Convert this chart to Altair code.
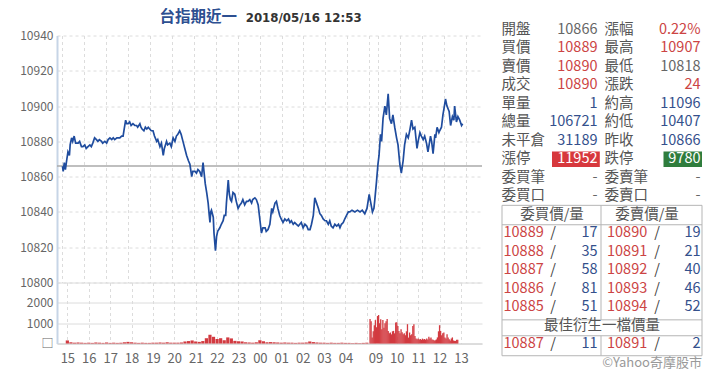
import altair as alt
import pandas as pd

FONT = "Noto Sans CJK TC"

# ---------------- data ----------------
title_main = "台指期近一"
title_time = "2018/05/16 12:53"
prev_close = 10866

# night session (minutes after 15:00)
night_min = [0, 2, 5, 8, 12, 15, 19, 21, 25, 28,
             32, 36, 43, 47, 52, 56, 61, 65, 70, 75,
             79, 83, 88, 93, 97, 101, 107, 110, 116, 121,
             125, 130, 135, 139, 143, 149, 157, 162, 166, 169,
             173, 176, 180, 184, 188, 193, 198, 203, 206, 212,
             215, 218, 223, 227, 231, 235, 239, 243, 248, 252,
             258, 261, 267, 271, 276, 279, 282, 285, 288, 294,
             298, 303, 308, 312, 316, 321, 325, 330, 335, 340,
             345, 349, 354, 357, 363, 367, 371, 376, 381, 385,
             388, 391, 395, 399, 402, 404, 406, 408, 413, 415,
             419, 422, 425, 431, 435, 440, 443, 447, 449, 454,
             457, 460, 463, 467, 472, 476, 481, 486, 490, 494,
             499, 504, 508, 513, 518, 521, 527, 531, 536, 541,
             545, 549, 555, 558, 563, 568, 573, 576, 582, 586,
             590, 595, 599, 604, 609, 614, 619, 623, 627, 632,
             636, 641, 646, 650, 654, 659, 664, 669, 673, 678,
             682, 687, 691, 696, 701, 705, 709, 714, 719, 723,
             728, 732, 736, 741, 746, 751, 756, 760, 764, 769,
             773, 778, 783, 787, 793, 801, 808, 815, 821, 828,
             834, 840]
night_price = [10866, 10863, 10868, 10864, 10870, 10874, 10872, 10878, 10882, 10880,
               10883, 10879, 10879, 10880, 10877, 10877, 10878, 10876, 10877, 10878,
               10877, 10879, 10882, 10881, 10880, 10881, 10880, 10879, 10880, 10879,
               10881, 10882, 10881, 10882, 10881, 10882, 10882, 10883, 10883, 10887,
               10892, 10890, 10890, 10891, 10889, 10890, 10889, 10889, 10888, 10890,
               10888, 10887, 10886, 10888, 10887, 10888, 10887, 10886, 10886, 10883,
               10880, 10881, 10877, 10879, 10872, 10876, 10878, 10880, 10878, 10879,
               10877, 10882, 10880, 10883, 10884, 10886, 10884, 10880, 10876, 10872,
               10869, 10867, 10860, 10863, 10863, 10862, 10864, 10863, 10860, 10868,
               10862, 10856, 10851, 10845, 10838, 10834, 10840, 10841, 10837, 10828,
               10818, 10826, 10829, 10831, 10833, 10835, 10838, 10838, 10845, 10858,
               10850, 10847, 10846, 10851, 10850, 10846, 10842, 10844, 10845, 10847,
               10844, 10846, 10846, 10847, 10845, 10847, 10848, 10847, 10844, 10835,
               10828, 10831, 10831, 10829, 10830, 10833, 10842, 10840, 10845, 10846,
               10842, 10838, 10836, 10834, 10836, 10835, 10836, 10834, 10835, 10833,
               10834, 10833, 10832, 10833, 10834, 10831, 10833, 10832, 10830, 10830,
               10833, 10838, 10848, 10845, 10842, 10839, 10838, 10836, 10835, 10835,
               10833, 10835, 10832, 10831, 10833, 10832, 10833, 10831, 10833, 10834,
               10836, 10838, 10840, 10840, 10841, 10840, 10841, 10840, 10841, 10839,
               10842, 10850]

# day session (minutes after 08:45)
day_min = [0, 4, 6, 11, 15, 18, 22, 25, 29, 34,
           38, 43, 47, 52, 56, 61, 66, 70, 75, 79,
           84, 88, 93, 98, 102, 107, 111, 116, 122, 125,
           130, 134, 139, 143, 148, 152, 159, 162, 166, 171,
           173, 177, 182, 184, 189, 193, 197, 200, 204, 210,
           214, 219, 223, 225, 230, 234, 239, 244, 247]
day_price = [10840, 10842, 10846, 10857, 10867, 10872, 10884, 10880, 10893, 10900,
             10895, 10907, 10893, 10890, 10895, 10888, 10882, 10878, 10867, 10862,
             10869, 10878, 10884, 10882, 10886, 10892, 10887, 10888, 10876, 10880,
             10885, 10883, 10881, 10883, 10879, 10874, 10883, 10880, 10873, 10884,
             10882, 10888, 10885, 10886, 10888, 10895, 10900, 10904, 10900, 10897,
             10889, 10894, 10892, 10900, 10891, 10894, 10892, 10889, 10890]

# volume, night every 10 minutes from 15:00, day every 3 minutes from 08:45
night_vol_min = list(range(0, 841, 10))
night_vol = [150, 60, 40, 50, 40, 30, 40, 30, 50, 40,
             30, 50, 30, 40, 30, 40, 60, 80, 60, 40,
             30, 40, 30, 30, 40, 40, 50, 40, 60, 40,
             40, 40, 50, 100, 120, 150, 100, 80, 120, 260,
             430, 330, 220, 260, 160, 300, 250, 130, 110, 100,
             60, 50, 40, 60, 160, 110, 60, 70, 60, 50,
             40, 50, 40, 40, 30, 40, 40, 50, 100, 70,
             50, 40, 40, 30, 40, 30, 30, 40, 30, 30,
             20, 30, 20, 30, 40]
day_vol_min = list(range(0, 247, 3))
day_vol = [1200, 1100, 300, 600, 900, 1150, 800, 1350, 1400, 1000,
           1190, 700, 1150, 780, 1000, 1100, 1200, 620, 500, 540,
           450, 600, 620, 500, 1030, 1050, 860, 620, 500, 700,
           550, 450, 500, 400, 600, 950, 290, 540, 400, 450,
           860, 950, 370, 250, 210, 250, 200, 220, 180, 240,
           200, 220, 180, 240, 200, 330, 250, 290, 200, 180,
           150, 160, 200, 300, 600, 900, 620, 400, 500, 540,
           300, 250, 460, 300, 210, 150, 250, 300, 150, 130,
           130, 180, 180]

tick_labels = ["15", "16", "17", "18", "19", "20", "21", "22", "23", "00",
               "01", "02", "03", "04", "09", "10", "11", "12", "13"]
price_ticks = [10800, 10820, 10840, 10860, 10880, 10900, 10920, 10940]
vol_ticks = [0, 1000, 2000, 3000]

left_labels = ["開盤", "買價", "賣價", "成交", "單量", "總量", "未平倉", "漲停", "委買筆", "委買口"]
left_values = ["10866", "10889", "10890", "10890", "1", "106721", "31189", "11952", "-", "-"]
left_kinds = ["flat", "up", "up", "up", "vol", "vol", "vol", "box", "flat", "flat"]
right_labels = ["漲幅", "最高", "最低", "漲跌", "約高", "約低", "昨收", "跌停", "委賣筆", "委賣口"]
right_values = ["0.22%", "10907", "10818", "24", "11096", "10407", "10866", "9780", "-", "-"]
right_kinds = ["up", "up", "flat", "up", "vol", "vol", "vol", "box", "flat", "flat"]

bid_prices = ["10889", "10888", "10887", "10886", "10885"]
bid_qty = ["17", "35", "58", "81", "51"]
ask_prices = ["10890", "10891", "10892", "10893", "10894"]
ask_qty = ["19", "21", "40", "46", "52"]
best_bid = ("10887", "11")
best_ask = ("10891", "2")
header_bid = "委買價/量"
header_ask = "委賣價/量"
best_title = "最佳衍生一檔價量"
credit = "©Yahoo奇摩股市"

# ---------------- styles ----------------
BLUE_LINE = "#1f4c9e"
RED = "#d23a40"
BLUE_TXT = "#34508c"
GRAY_TXT = "#666666"
LABEL_TXT = "#555555"
GRID = "#dcdcdc"
KIND_COLOR = {"flat": GRAY_TXT, "up": "#cc4444", "vol": BLUE_TXT, "box": "white"}

GAP = 0.15  # break between night close (05:00) and day open (08:45)


def night_pos(m):
    return m / 60.0


def day_pos(m):
    return 14.0 + GAP + m / 60.0


XDOM = [-0.25, 19.15]
tick_pos = [float(h) for h in range(14)] + [day_pos(15 + 60 * k) for k in range(5)]
grid_pos = tick_pos + [14.0]

expr = "''"
for p, lab in zip(tick_pos, tick_labels):
    expr = f"abs(datum.value - {p}) < 0.001 ? '{lab}' : ({expr})"

price_df = pd.DataFrame({
    "pos": [night_pos(m) for m in night_min] + [day_pos(m) for m in day_min],
    "price": night_price + day_price,
})
vol_night_df = pd.DataFrame({"pos": [night_pos(m) for m in night_vol_min], "vol": night_vol})
vol_day_df = pd.DataFrame({"pos": [day_pos(m) for m in day_vol_min], "vol": day_vol})

W = 425
PH = 247
VH = 61

xscale = alt.Scale(domain=XDOM, nice=False, zero=False)
yscale_price = alt.Scale(domain=[10800, 10940], nice=False, zero=False)
yaxis_common = dict(title=None, ticks=False, labelColor=GRAY_TXT, labelFont=FONT, labelFontSize=12,
                    labelPadding=4, domainColor="#c7d5e6", domainWidth=2, labelOverlap=False)

x_price = alt.X("pos:Q", scale=xscale,
                axis=alt.Axis(values=grid_pos, labels=False, ticks=False, domain=False, title=None,
                              grid=True, gridDash=[3, 3], gridColor=GRID))
y_price = alt.Y("price:Q", scale=yscale_price,
                axis=alt.Axis(values=price_ticks, format="d", grid=True, gridDash=[3, 3], gridColor=GRID,
                              **yaxis_common))

price_line = alt.Chart(price_df).mark_line(color=BLUE_LINE, strokeWidth=1.7).encode(x=x_price, y=y_price)
ref_line = alt.Chart(pd.DataFrame({"price": [prev_close]})).mark_rule(color="#aaaaaa", strokeWidth=1.5).encode(
    y=y_price)
title1 = alt.Chart(pd.DataFrame({"t": [title_main]})).mark_text(
    align="left", baseline="middle", font=FONT, fontSize=15.5, fontWeight="bold", color="#2d4f91"
).encode(text="t:N", x=alt.value(102.5), y=alt.value(-19))
title2 = alt.Chart(pd.DataFrame({"t": [title_time]})).mark_text(
    align="left", baseline="middle", font="DejaVu Sans", fontSize=11.8, fontWeight="bold", color="#333333"
).encode(text="t:N", x=alt.value(188.7), y=alt.value(-18))

price_chart = alt.layer(ref_line, price_line, title1, title2).properties(width=W, height=PH)

x_vol = alt.X("pos:Q", scale=xscale,
              axis=alt.Axis(values=grid_pos, labelExpr=expr, ticks=False, domain=True, domainColor="#cccccc",
                            title=None, grid=True, gridDash=[3, 3], gridColor=GRID, labelColor=GRAY_TXT,
                            labelFont=FONT, labelFontSize=13, labelPadding=9, labelFlush=False,
                            labelOverlap=False))
y_vol = alt.Y("vol:Q", scale=alt.Scale(domain=[0, 3000], nice=False),
              axis=alt.Axis(values=vol_ticks, grid=True, gridColor=GRID,
                            labelExpr="datum.value == 3000 ? '' : (datum.value == 0 ? '□' : datum.value)",
                            **yaxis_common))
vol_night = alt.Chart(vol_night_df).mark_bar(color=RED, size=3.2).encode(x=x_vol, y=y_vol)
vol_day = alt.Chart(vol_day_df).mark_bar(color=RED, size=1.3).encode(x=x_vol, y=y_vol)
vol_chart = alt.layer(vol_night, vol_day).properties(width=W, height=VH)

left = alt.vconcat(price_chart, vol_chart, spacing=0, bounds="flush").resolve_scale(
    x="independent", y="independent")

# ---------------- info table ----------------
TW = 202
ROW_PX = 18.5
TOP_ROW = 0.31
BOT_ROW = 18.5
TH = (BOT_ROW - TOP_ROW) * ROW_PX
tx = alt.Scale(domain=[0, TW], nice=False, zero=False)
ty = alt.Scale(domain=[TOP_ROW, BOT_ROW], nice=False, zero=False, reverse=True)


def X(f):
    return alt.X(f + ":Q", scale=tx, axis=None)


def Y(f):
    return alt.Y(f + ":Q", scale=ty, axis=None)


rows_top = list(range(len(left_labels)))
lab_df = pd.DataFrame({
    "x": [0.5] * len(left_labels) + [103.5] * len(right_labels),
    "row": rows_top + rows_top,
    "t": left_labels + right_labels,
})
lv_df = pd.DataFrame({
    "x": [96.5] * len(left_values) + [199.5] * len(right_values),
    "row": rows_top + rows_top,
    "t": left_values + right_values,
    "c": [KIND_COLOR[k] for k in left_kinds + right_kinds],
})
box_df = pd.DataFrame({
    "x": [51.0, 162.5], "x2": [98.8, 201.0],
    "y": [7 - 0.42, 7 - 0.42], "y2": [7 + 0.42, 7 + 0.42],
    "c": ["#d7383d", "#2f7d3d"],
})

book_rows = [11, 12, 13, 14, 15, 17]
bp = list(bid_prices) + [best_bid[0]]
bq = list(bid_qty) + [best_bid[1]]
ap = list(ask_prices) + [best_ask[0]]
aq = list(ask_qty) + [best_ask[1]]
bookp_df = pd.DataFrame({"x": [2.5] * 6 + [106.0] * 6, "row": book_rows * 2, "t": bp + ap})
slash_df = pd.DataFrame({"x": [52.0] * 6 + [156.0] * 6, "row": book_rows * 2, "t": ["/"] * 12})
bookq_df = pd.DataFrame({"x": [96.5] * 6 + [199.5] * 6, "row": book_rows * 2, "t": bq + aq})
head_df = pd.DataFrame({"x": [51.0, 146.0, 101.0], "row": [10, 10, 16], "t": [header_bid, header_ask, best_title]})
credit_df = pd.DataFrame({"x": [201.0], "row": [18], "t": [credit]})

hrule_df = pd.DataFrame({"x": [1.0] * 5, "x2": [201.0] * 5, "y": [9.49, 10.54, 15.68, 16.54, 17.62]})
vrule_df = pd.DataFrame({"x": [1.0, 201.0, 100.0, 100.0], "y": [9.49, 9.49, 9.49, 16.54],
                         "y2": [17.62, 17.62, 15.68, 17.62]})

T_SIZE = 14.5
t_labels = alt.Chart(lab_df).mark_text(align="left", baseline="middle", font=FONT, fontSize=T_SIZE,
                                       color=LABEL_TXT).encode(x=X("x"), y=Y("row"), text="t:N")
t_boxes = alt.Chart(box_df).mark_rect().encode(x=X("x"), x2="x2:Q", y=Y("y"), y2="y2:Q",
                                               color=alt.Color("c:N", scale=None))
t_values = alt.Chart(lv_df).mark_text(align="right", baseline="middle", font=FONT, fontSize=T_SIZE).encode(
    x=X("x"), y=Y("row"), text="t:N", color=alt.Color("c:N", scale=None))
t_hr = alt.Chart(hrule_df).mark_rule(color="#b5b5b5", strokeWidth=1).encode(x=X("x"), x2="x2:Q", y=Y("y"))
t_vr = alt.Chart(vrule_df).mark_rule(color="#b5b5b5", strokeWidth=1).encode(x=X("x"), y=Y("y"), y2="y2:Q")
t_bookp = alt.Chart(bookp_df).mark_text(align="left", baseline="middle", font=FONT, fontSize=T_SIZE,
                                        color="#cc4444").encode(x=X("x"), y=Y("row"), text="t:N")
t_slash = alt.Chart(slash_df).mark_text(align="center", baseline="middle", font=FONT, fontSize=T_SIZE,
                                        color="#444444").encode(x=X("x"), y=Y("row"), text="t:N")
t_bookq = alt.Chart(bookq_df).mark_text(align="right", baseline="middle", font=FONT, fontSize=T_SIZE,
                                        color=BLUE_TXT).encode(x=X("x"), y=Y("row"), text="t:N")
t_head = alt.Chart(head_df).mark_text(align="center", baseline="middle", font=FONT, fontSize=T_SIZE,
                                      color=LABEL_TXT).encode(x=X("x"), y=Y("row"), text="t:N")
t_credit = alt.Chart(credit_df).mark_text(align="right", baseline="middle", font=FONT, fontSize=13,
                                          color="#999999").encode(x=X("x"), y=Y("row"), text="t:N")

table = alt.layer(t_hr, t_vr, t_boxes, t_labels, t_values, t_bookp, t_slash, t_bookq, t_head, t_credit
                  ).properties(width=TW, height=TH)

chart = alt.hconcat(left, table, spacing=18).resolve_scale(
    x="independent", y="independent").properties(
    padding={"left": 11, "top": 1.5, "right": 0, "bottom": 0}, background="white"
).configure_view(stroke=None).configure_axis(labelOverlap=False)

chart.save("out.html", embed_options={"renderer": "svg", "actions": False})
